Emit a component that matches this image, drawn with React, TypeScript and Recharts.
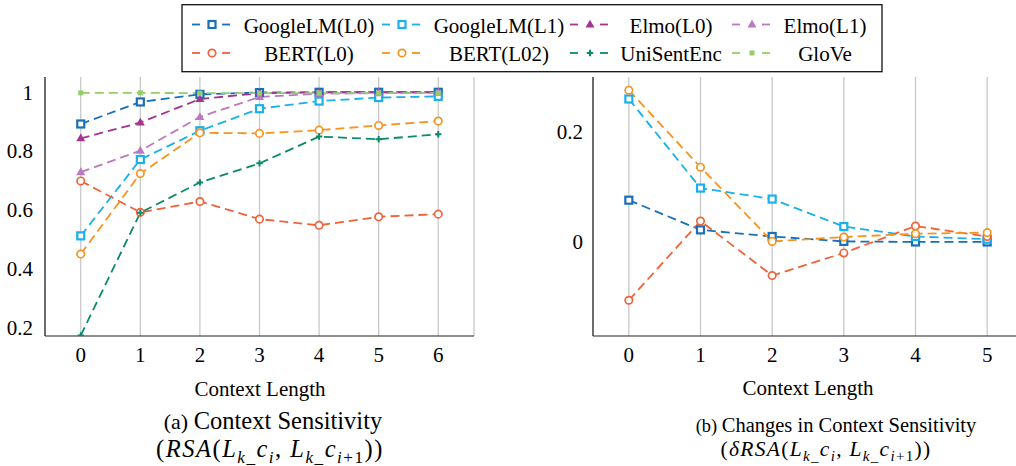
import React from 'react';
import { LineChart, Line, XAxis, YAxis, CartesianGrid } from 'recharts';

const FONT = "'Liberation Serif', 'Times New Roman', serif";

// ---------- data ----------
const contextLengthA = [0, 1, 2, 3, 4, 5, 6];
const contextLengthB = [0, 1, 2, 3, 4, 5];

const googleL0A = [0.892, 0.967, 0.993, 0.999, 1.0, 1.0, 1.0];
const googleL1A = [0.511, 0.771, 0.869, 0.944, 0.97, 0.982, 0.986];
const elmoL0A = [0.843, 0.897, 0.977, 0.997, 1.0, 1.0, 1.0];
const elmoL1A = [0.728, 0.801, 0.916, 0.984, 0.995, 0.997, 0.998];
const bertL0A = [0.698, 0.591, 0.628, 0.568, 0.547, 0.576, 0.585];
const bertL02A = [0.449, 0.723, 0.862, 0.86, 0.871, 0.887, 0.902];
const uniSentEncA = [0.172, 0.59, 0.693, 0.758, 0.849, 0.84, 0.857];
const gloveA = [0.998, 0.998, 0.997, 0.997, 0.997, 0.997, 0.997];

const googleL0B = [0.076, 0.022, 0.01, 0.001, 0.0, 0.0];
const googleL1B = [0.26, 0.098, 0.078, 0.028, 0.01, 0.005];
const bertL0B = [-0.106, 0.038, -0.061, -0.02, 0.029, 0.01];
const bertL02B = [0.276, 0.136, 0.001, 0.009, 0.015, 0.017];

const seriesNames = ['GoogleLM(L0)', 'GoogleLM(L1)', 'Elmo(L0)', 'Elmo(L1)', 'BERT(L0)', 'BERT(L02)', 'UniSentEnc', 'GloVe'];
const seriesColors = ['#1a6fba', '#19b0eb', '#a3358f', '#bb7abf', '#ef6339', '#f7931f', '#0a8a6c', '#92cf6a'];
const seriesMarkers = ['square', 'square', 'triangle', 'triangle', 'circle', 'circle', 'plus', 'dot'];

const xTicksA = [0, 1, 2, 3, 4, 5, 6];
const xMinorA = [-0.5, 0, 0.5, 1, 1.5, 2, 2.5, 3, 3.5, 4, 4.5, 5, 5.5, 6, 6.5];
const yTicksA = [0.2, 0.4, 0.6, 0.8, 1];
const yMinorA = [0.2, 0.3, 0.4, 0.5, 0.6, 0.7, 0.8, 0.9, 1.0];

const xTicksB = [0, 1, 2, 3, 4, 5];
const xMinorB = [-0.5, 0, 0.5, 1, 1.5, 2, 2.5, 3, 3.5, 4, 4.5, 5, 5.5];
const yTicksB = [0, 0.2];
const yMinorB = [-0.1, 0, 0.1, 0.2];

const seriesA = [googleL0A, googleL1A, elmoL0A, elmoL1A, bertL0A, bertL02A, uniSentEncA, gloveA];
const dataA = contextLengthA.map((x, i) => {
  const row: any = { x };
  seriesA.forEach((s, k) => { row['s' + k] = s[i]; });
  return row;
});
const seriesBIdx = [0, 1, 4, 5];
const seriesB = [googleL0B, googleL1B, bertL0B, bertL02B];
const dataB = contextLengthB.map((x, i) => {
  const row: any = { x };
  seriesB.forEach((s, j) => { row['s' + seriesBIdx[j]] = s[i]; });
  return row;
});

// ---------- markers ----------
function marker(kind: string, color: string, cx: number, cy: number, key: string) {
  if (cx == null || cy == null || isNaN(cx) || isNaN(cy)) return <g key={key} />;
  switch (kind) {
    case 'square':
      return <rect key={key} x={cx - 3.5} y={cy - 3.5} width={7} height={7} fill="#fff" stroke={color} strokeWidth={2.2} />;
    case 'circle':
      return <circle key={key} cx={cx} cy={cy} r={3.7} fill="#fff" stroke={color} strokeWidth={1.7} />;
    case 'triangle':
      return <polygon key={key} points={`${cx},${cy - 4.8} ${cx - 4.5},${cy + 3} ${cx + 4.5},${cy + 3}`} fill={color} />;
    case 'plus':
      return <path key={key} d={`M${cx - 3.2},${cy}H${cx + 3.2}M${cx},${cy - 3.2}V${cy + 3.2}`} stroke={color} strokeWidth={2} />;
    default:
      return <rect key={key} x={cx - 2.5} y={cy - 2.5} width={5} height={5} fill={color} />;
  }
}

const tickStyle = { fontSize: 21, fill: '#000', fontFamily: FONT };
const frame = { stroke: '#222', strokeWidth: 1.2 };
const minorTick = { stroke: '#8c8c8c', strokeWidth: 1.2 };

function Panel(props: any) {
  const { data, idx, width, height, margin, xDomain, xTicks, xMinor, yDomain, yTicks, yMinor, yTickMargin } = props;
  return (
    <LineChart width={width} height={height} data={data} margin={margin}>
      <CartesianGrid xAxisId="main" yAxisId="main" horizontal={false} stroke="#c8c8c8" strokeWidth={1.3} />
      <XAxis xAxisId="main" dataKey="x" type="number" domain={xDomain} ticks={xTicks} allowDataOverflow interval={0}
        tickLine={false} tickSize={0} tickMargin={11} height={30} axisLine={frame} tick={tickStyle} />
      <XAxis xAxisId="bottomMinor" type="number" domain={xDomain} ticks={xMinor} allowDataOverflow interval={0}
        orientation="bottom" mirror height={0} tick={false} tickSize={9} tickLine={minorTick} axisLine={false} />
      <XAxis xAxisId="topMinor" type="number" domain={xDomain} ticks={xMinor} allowDataOverflow interval={0}
        orientation="top" mirror height={0} tick={false} tickSize={9} tickLine={minorTick} axisLine={frame} />
      <YAxis yAxisId="main" type="number" domain={yDomain} ticks={yTicks} allowDataOverflow interval={0}
        width={40} tickLine={false} tickSize={0} tickMargin={yTickMargin} axisLine={frame} tick={tickStyle} />
      <YAxis yAxisId="leftMinor" type="number" domain={yDomain} ticks={yMinor} allowDataOverflow interval={0}
        orientation="left" mirror width={0} tick={false} tickSize={10} tickLine={minorTick} axisLine={false} />
      <YAxis yAxisId="rightMinor" type="number" domain={yDomain} ticks={yMinor} allowDataOverflow interval={0}
        orientation="right" mirror width={0} tick={false} tickSize={10} tickLine={minorTick} axisLine={frame} />
      {idx.map((k: number) => (
        <Line key={'s' + k} xAxisId="main" yAxisId="main" type="linear" dataKey={'s' + k}
          stroke={seriesColors[k]} strokeWidth={1.8} strokeDasharray="9 5" isAnimationActive={false}
          activeDot={false}
          dot={(p: any) => marker(seriesMarkers[k], seriesColors[k], p.cx, p.cy, `d-${k}-${p.index}`)} />
      ))}
    </LineChart>
  );
}

const legendMarkerX = [192, 382, 570, 732];
const legendTextX = [309, 499, 671, 825];
const legendMarkerY = [24.5, 53];
const legendTextY = [32.5, 61];

function MathLine({ x, y, f, delta, ls }: any) {
  const s = f * 0.7;
  const d = f * 0.24;
  return (
    <text x={x} y={y} textAnchor="middle" fontFamily={FONT} fontSize={f} fill="#000" letterSpacing={ls}>
      <tspan>(</tspan>
      <tspan fontStyle="italic">{delta ? 'δRSA' : 'RSA'}</tspan>
      <tspan>(</tspan>
      <tspan fontStyle="italic">L</tspan>
      <tspan fontStyle="italic" fontSize={s} dy={d}>k</tspan>
      <tspan fontSize={s}>_</tspan>
      <tspan fontStyle="italic" dy={-d}>c</tspan>
      <tspan fontStyle="italic" fontSize={s} dy={d}>i</tspan>
      <tspan dy={-d}>, </tspan>
      <tspan fontStyle="italic">L</tspan>
      <tspan fontStyle="italic" fontSize={s} dy={d}>k</tspan>
      <tspan fontSize={s}>_</tspan>
      <tspan fontStyle="italic" dy={-d}>c</tspan>
      <tspan fontStyle="italic" fontSize={s} dy={d}>i</tspan>
      <tspan fontSize={s}>+1</tspan>
      <tspan dy={-d}>))</tspan>
    </text>
  );
}

export default function App() {
  return (
    <div style={{ position: 'absolute', left: 0, top: 0, width: 1016, height: 466, overflow: 'hidden', background: '#fff' }}>
      <div style={{ position: 'absolute', left: 0, top: 0 }}>
        <Panel data={dataA} idx={[0, 1, 2, 3, 4, 5, 6, 7]} width={500} height={380}
          margin={{ top: 77, right: 26, bottom: 14, left: 5 }}
          xDomain={[-0.6, 6.6]} xTicks={xTicksA} xMinor={xMinorA}
          yDomain={[0.17, 1.052]} yTicks={yTicksA} yMinor={yMinorA} yTickMargin={12} />
      </div>
      <div style={{ position: 'absolute', left: 500, top: 0 }}>
        <Panel data={dataB} idx={seriesBIdx} width={540} height={380}
          margin={{ top: 77, right: 17, bottom: 14, left: 53 }}
          xDomain={[-0.5, 5.5]} xTicks={xTicksB} xMinor={xMinorB}
          yDomain={[-0.171, 0.3]} yTicks={yTicksB} yMinor={yMinorB} yTickMargin={10} />
      </div>
      <svg width={1016} height={466} style={{ position: 'absolute', left: 0, top: 0, pointerEvents: 'none' }}>
        <rect x={182} y={4.7} width={700} height={67} fill="#fff" stroke="#111" strokeWidth={1.3} />
        {seriesNames.map((name, i) => {
          const col = i % 4;
          const row = Math.floor(i / 4);
          const mx = legendMarkerX[col];
          const my = legendMarkerY[row];
          return (
            <g key={name}>
              <line x1={mx} x2={mx + 8} y1={my} y2={my} stroke={seriesColors[i]} strokeWidth={1.8} />
              <line x1={mx + 30} x2={mx + 38} y1={my} y2={my} stroke={seriesColors[i]} strokeWidth={1.8} />
              {marker(seriesMarkers[i], seriesColors[i], mx + 20, my, 'lm' + i)}
              <text x={legendTextX[col]} y={legendTextY[row]} textAnchor="middle" fontFamily={FONT} fontSize={21} fill="#000">{name}</text>
            </g>
          );
        })}
        <text x={260} y={396} textAnchor="middle" fontFamily={FONT} fontSize={21} fill="#000">Context Length</text>
        <text x={808} y={395} textAnchor="middle" fontFamily={FONT} fontSize={21} fill="#000">Context Length</text>
        <text x={273} y={429} textAnchor="middle" fontFamily={FONT} fill="#000">
          <tspan fontSize={22}>(a) </tspan>
          <tspan fontSize={24.5}>Context Sensitivity</tspan>
        </text>
        <MathLine x={270} y={457} f={24.5} delta={false} ls={1.5} />
        <text x={836} y={432} textAnchor="middle" fontFamily={FONT} fill="#000">
          <tspan fontSize={18.4}>(b) </tspan>
          <tspan fontSize={20.5}>Changes in Context Sensitivity</tspan>
        </text>
        <MathLine x={826} y={456} f={21.5} delta={true} ls={1.3} />
      </svg>
    </div>
  );
}
